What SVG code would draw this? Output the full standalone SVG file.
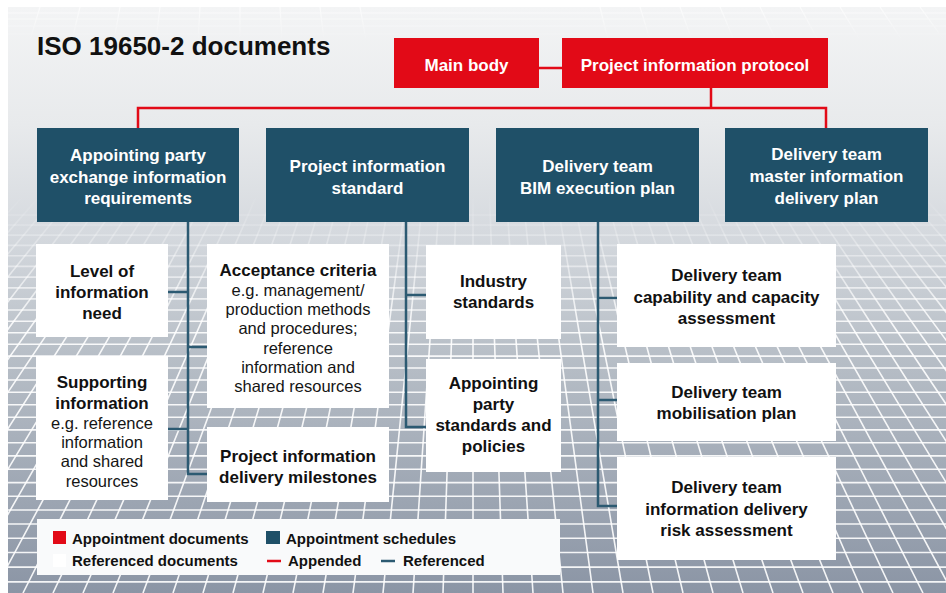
<svg xmlns="http://www.w3.org/2000/svg" width="946" height="593" viewBox="0 0 946 593">
  <defs>
    <linearGradient id="bgFade" x1="0" y1="7" x2="0" y2="593" gradientUnits="userSpaceOnUse">
      <stop offset="0" stop-color="#f3f4f5"/>
      <stop offset="0.2" stop-color="#e8eaec"/>
      <stop offset="0.38" stop-color="#d6dadf"/>
      <stop offset="0.58" stop-color="#b9c0c8"/>
      <stop offset="1" stop-color="#8b95a5"/>
    </linearGradient>
    <linearGradient id="gridFade" x1="0" y1="195" x2="0" y2="330" gradientUnits="userSpaceOnUse">
      <stop offset="0" stop-color="#ffffff" stop-opacity="0"/>
      <stop offset="1" stop-color="#ffffff" stop-opacity="0.9"/>
    </linearGradient>
    <linearGradient id="ceilFade" x1="0" y1="7" x2="0" y2="40" gradientUnits="userSpaceOnUse">
      <stop offset="0" stop-color="#ffffff" stop-opacity="0.7"/>
      <stop offset="1" stop-color="#ffffff" stop-opacity="0"/>
    </linearGradient>
    <clipPath id="frame">
      <rect x="8" y="7" width="938" height="586"/>
    </clipPath>
  </defs>
  <style>
    text { font-family: "Liberation Sans", Arial, sans-serif; }
    .title { font-size: 26px; font-weight: bold; fill: #111; }
    .red { fill: #e20a17; }
    .blue { fill: #1f5068; }
    .white { fill: #ffffff; }
    .hdr { font-size: 17px; font-weight: bold; fill: #ffffff; text-anchor: middle; }
    .bold { font-size: 17px; font-weight: bold; fill: #111; text-anchor: middle; }
    .reg { font-size: 16.5px; fill: #151515; text-anchor: middle; }
    .lg { font-size: 15px; font-weight: bold; fill: #111; }
    .appended { stroke: #e20a17; stroke-width: 2.5; fill: none; }
    .referenced { stroke: #2c5a72; stroke-width: 2.5; fill: none; }
    .grid { stroke: url(#gridFade); stroke-width: 1.6; fill: none; }
    .ceiling { stroke: url(#ceilFade); stroke-width: 1.2; fill: none; }
  </style>

  <!-- backdrop: perspective floor grid -->
  <rect width="946" height="593" fill="#ffffff"/>
  <g clip-path="url(#frame)">
    <rect x="8" y="7" width="938" height="586" fill="url(#bgFade)"/>
    <!-- faint ceiling grid along the top edge -->
    <path class="ceiling" d="M8 13H946M8 19H946M8 26H946M8 34H946M40 7L30 40M80 7L72 40M120 7L114 40M160 7L156 40M200 7L198 40M240 7L240 40M280 7L282 40M320 7L324 40M360 7L366 40M600 7L608 40M640 7L650 40M680 7L692 40M720 7L734 40M760 7L776 40M800 7L818 40M840 7L860 40M880 7L902 40M920 7L944 40"/>
    <path class="grid" d="M8 215H946M8 225H946M8 235.1H946M8 245.4H946M8 255.8H946M8 266.4H946M8 277.1H946M8 287.9H946M8 298.9H946M8 310H946M8 321.3H946M8 332.7H946M8 344.3H946M8 356.1H946M8 368H946M8 380H946M8 392.3H946M8 404.7H946M8 417.2H946M8 429.9H946M8 442.8H946M8 455.9H946M8 469.2H946M8 482.6H946M8 496.2H946M8 510H946M8 524H946M8 538.2H946M8 552.5H946M8 567.1H946M8 581.9H946"/>
    <path class="grid" d="M7.4 195L-367 593M24 195L-337 593M40.6 195L-307 593M57.3 195L-277 593M73.9 195L-247 593M90.5 195L-217 593M107.2 195L-187 593M123.8 195L-157 593M140.4 195L-127 593M157.1 195L-97 593M173.7 195L-67 593M190.3 195L-37 593M206.9 195L-7 593M223.6 195L23 593M240.2 195L53 593M256.8 195L83 593M273.5 195L113 593M290.1 195L143 593M306.7 195L173 593M323.3 195L203 593M340 195L233 593M356.6 195L263 593M373.2 195L293 593M389.9 195L323 593M406.5 195L353 593M423.1 195L383 593M439.7 195L413 593M456.4 195L443 593M473 195L473 593M489.6 195L503 593M506.3 195L533 593M522.9 195L563 593M539.5 195L593 593M556.1 195L623 593M572.8 195L653 593M589.4 195L683 593M606 195L713 593M622.7 195L743 593M639.3 195L773 593M655.9 195L803 593M672.6 195L833 593M689.2 195L863 593M705.8 195L893 593M722.4 195L923 593M739.1 195L953 593M755.7 195L983 593M772.3 195L1013 593M789 195L1043 593M805.6 195L1073 593M822.2 195L1103 593M838.8 195L1133 593M855.5 195L1163 593M872.1 195L1193 593M888.7 195L1223 593M905.4 195L1253 593M922 195L1283 593M938.6 195L1313 593"/>
  </g>

  <!-- heading -->
  <text id="title" class="title" x="37" y="55">ISO 19650-2 documents</text>

  <!-- connectors -->
  <g id="connectors">
    <path class="appended" d="M539 68H562M711 88V108M138 128V108H826V128"/>
    <path class="referenced" d="M188 222V474H207M168 292H188M188 347H207M168 429H188"/>
    <path class="referenced" d="M406 222V427H426M406 295H426"/>
    <path class="referenced" d="M598 222V506H617M598 298H617M598 400H617"/>
  </g>

  <!-- appointment documents -->
  <g id="main-body">
    <rect class="red" x="394" y="38" width="145" height="50"/>
    <text class="hdr" x="466.5" y="71">Main body</text>
  </g>
  <g id="project-information-protocol">
    <rect class="red" x="562" y="38" width="266" height="50"/>
    <text class="hdr" x="695" y="71">Project information protocol</text>
  </g>

  <!-- appointment schedules -->
  <g id="exchange-information-requirements">
    <rect class="blue" x="37" y="128" width="202" height="94"/>
    <text class="hdr" x="138" y="161">Appointing party</text>
    <text class="hdr" x="138" y="183">exchange information</text>
    <text class="hdr" x="138" y="204">requirements</text>
  </g>
  <g id="project-information-standard">
    <rect class="blue" x="266" y="128" width="203" height="94"/>
    <text class="hdr" x="367.5" y="172">Project information</text>
    <text class="hdr" x="367.5" y="194">standard</text>
  </g>
  <g id="bim-execution-plan">
    <rect class="blue" x="496" y="128" width="203" height="94"/>
    <text class="hdr" x="597.5" y="172">Delivery team</text>
    <text class="hdr" x="597.5" y="194">BIM execution plan</text>
  </g>
  <g id="master-information-delivery-plan">
    <rect class="blue" x="725" y="128" width="203" height="94"/>
    <text class="hdr" x="826.5" y="160">Delivery team</text>
    <text class="hdr" x="826.5" y="182">master information</text>
    <text class="hdr" x="826.5" y="204">delivery plan</text>
  </g>

  <!-- referenced documents -->
  <g id="level-of-information-need">
    <rect class="white" x="36" y="244" width="132" height="93"/>
    <text class="bold" x="102" y="277">Level of</text>
    <text class="bold" x="102" y="298">information</text>
    <text class="bold" x="102" y="319">need</text>
  </g>
  <g id="supporting-information">
    <rect class="white" x="36" y="356" width="132" height="144"/>
    <text class="bold" x="102" y="388">Supporting</text>
    <text class="bold" x="102" y="409">information</text>
    <text class="reg" x="102" y="429">e.g. reference</text>
    <text class="reg" x="102" y="448">information</text>
    <text class="reg" x="102" y="467">and shared</text>
    <text class="reg" x="102" y="487">resources</text>
  </g>
  <g id="acceptance-criteria">
    <rect class="white" x="207" y="244" width="182" height="164"/>
    <text class="bold" x="298" y="276">Acceptance criteria</text>
    <text class="reg" x="298" y="296">e.g. management/</text>
    <text class="reg" x="298" y="315">production methods</text>
    <text class="reg" x="298" y="334">and procedures;</text>
    <text class="reg" x="298" y="354">reference</text>
    <text class="reg" x="298" y="373">information and</text>
    <text class="reg" x="298" y="392">shared resources</text>
  </g>
  <g id="delivery-milestones">
    <rect class="white" x="207" y="427" width="182" height="75"/>
    <text class="bold" x="298" y="462">Project information</text>
    <text class="bold" x="298" y="483">delivery milestones</text>
  </g>
  <g id="industry-standards">
    <rect class="white" x="426" y="245" width="135" height="94"/>
    <text class="bold" x="493.5" y="287">Industry</text>
    <text class="bold" x="493.5" y="308">standards</text>
  </g>
  <g id="appointing-party-standards">
    <rect class="white" x="426" y="359" width="135" height="113"/>
    <text class="bold" x="493.5" y="389">Appointing</text>
    <text class="bold" x="493.5" y="410">party</text>
    <text class="bold" x="493.5" y="431">standards and</text>
    <text class="bold" x="493.5" y="452">policies</text>
  </g>
  <g id="capability-assessment">
    <rect class="white" x="617" y="244" width="219" height="103"/>
    <text class="bold" x="726.5" y="281">Delivery team</text>
    <text class="bold" x="726.5" y="303">capability and capacity</text>
    <text class="bold" x="726.5" y="324">assessment</text>
  </g>
  <g id="mobilisation-plan">
    <rect class="white" x="617" y="363" width="219" height="78"/>
    <text class="bold" x="726.5" y="398">Delivery team</text>
    <text class="bold" x="726.5" y="419">mobilisation plan</text>
  </g>
  <g id="risk-assessment">
    <rect class="white" x="617" y="457" width="219" height="103"/>
    <text class="bold" x="726.5" y="493">Delivery team</text>
    <text class="bold" x="726.5" y="515">information delivery</text>
    <text class="bold" x="726.5" y="536">risk assessment</text>
  </g>

  <!-- key -->
  <g id="legend">
    <rect x="37" y="519" width="523" height="56" fill="#f9fafb"/>
    <rect class="red" x="53" y="531" width="13" height="13"/>
    <text class="lg" x="72" y="544">Appointment documents</text>
    <rect class="blue" x="266" y="531" width="14" height="13"/>
    <text class="lg" x="286" y="544">Appointment schedules</text>
    <rect class="white" x="53" y="554" width="13" height="13"/>
    <text class="lg" x="72" y="566">Referenced documents</text>
    <path class="appended" d="M267 561H281"/>
    <text class="lg" x="288" y="566">Appended</text>
    <path class="referenced" d="M381 561H395"/>
    <text class="lg" x="403" y="566">Referenced</text>
  </g>
</svg>
